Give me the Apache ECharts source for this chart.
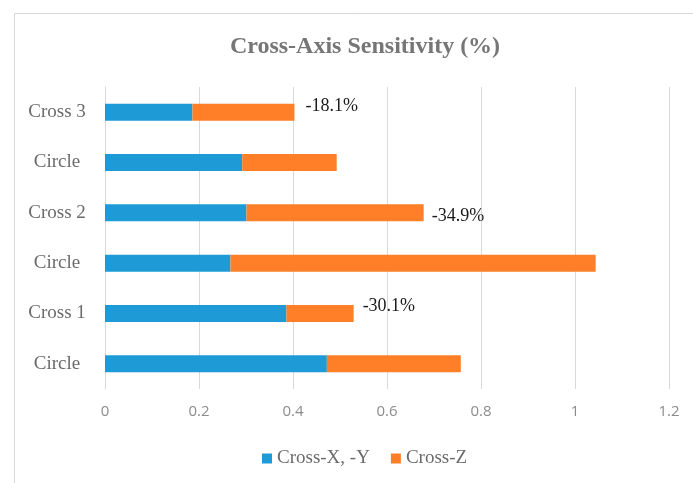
<!DOCTYPE html>
<html>
<head>
<meta charset="utf-8">
<script src="https://cdn.jsdelivr.net/npm/echarts@6/dist/echarts.min.js"></script>
<style>
html,body{margin:0;padding:0;background:#fff;}
#c{width:693px;height:483px;}
</style>
</head>
<body>
<div id="c"></div>
<script>
// Data (bottom to top)
const categories = ['Circle', 'Cross 1', 'Circle', 'Cross 2', 'Circle', 'Cross 3'];
const crossXY = [0.472, 0.386, 0.267, 0.301, 0.292, 0.186];
const crossZ = [0.285, 0.143, 0.777, 0.377, 0.201, 0.217];
const annotations = ['', '-30.1%', '', '-34.9%', '', '-18.1%'];
const xTicks = { min: 0, max: 1.2, interval: 0.2 };

const labelOffsets = [[0, 0], [0, -7], [0, 0], [-1, 3], [0, 0], [2, -6]];
const serif = '"Liberation Serif", "DejaVu Serif", serif';

const chart = echarts.init(document.getElementById('c'));
chart.setOption({
  animation: false,
  backgroundColor: '#fff',
  graphic: [{
    type: 'rect', left: 12, top: 11,
    shape: { width: 720, height: 520 },
    style: { fill: 'none', stroke: '#d9d9d9', lineWidth: 1 }, silent: true, z: -1
  }],
  title: {
    text: 'Cross-Axis Sensitivity (%)',
    left: 360, top: 30, textAlign: 'center',
    textStyle: { fontFamily: serif, fontSize: 24, fontWeight: 'bold', color: '#767676' }
  },
  legend: {
    left: 262, top: 449, padding: 0, icon: 'rect', itemWidth: 10, itemHeight: 10, itemGap: 21,
    textStyle: { fontFamily: serif, fontSize: 19, color: '#6b6b6b' },
    data: ['Cross-X, -Y', 'Cross-Z']
  },
  grid: { left: 105, right: 24, top: 87, bottom: 94, containLabel: false },
  xAxis: {
    type: 'value', min: xTicks.min, max: xTicks.max, interval: xTicks.interval,
    axisLine: { show: false }, axisTick: { show: false },
    splitLine: { lineStyle: { color: '#d9d9d9', width: 1 } },
    axisLabel: { color: '#8c8c8c', fontSize: 15, margin: 15, fontFamily: '"Open Sans", sans-serif' }
  },
  yAxis: {
    type: 'category', data: categories,
    axisLine: { lineStyle: { color: '#d9d9d9' } }, axisTick: { show: false },
    axisLabel: { color: '#6b6b6b', fontSize: 19, fontFamily: serif, margin: 48, align: 'center' }
  },
  series: [
    { name: 'Cross-X, -Y', type: 'bar', stack: 's', data: crossXY, barWidth: 17,
      itemStyle: { color: '#1e9bd7' } },
    { name: 'Cross-Z', type: 'bar', stack: 's', barWidth: 17,
      itemStyle: { color: '#fe7f27' },
      data: crossZ.map((v, i) => ({
        value: v,
        label: {
          show: annotations[i] !== '', position: 'right', distance: 9,
          offset: labelOffsets[i], formatter: annotations[i],
          fontFamily: serif, fontSize: 18, color: '#1a1a1a'
        }
      }))
    }
  ]
});
</script>
</body>
</html>
